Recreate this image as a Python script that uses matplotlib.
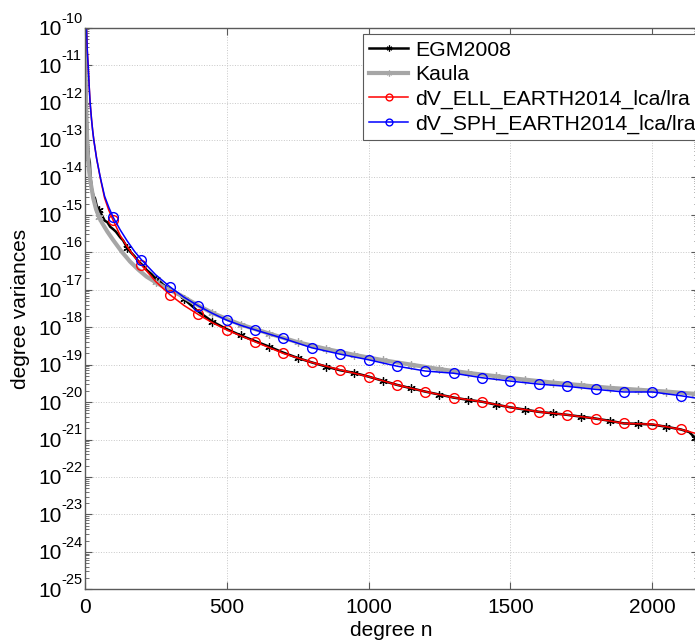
"""Degree variances of EGM2008, Kaula and two EARTH2014 topographic potential models."""

from __future__ import annotations

import matplotlib

matplotlib.use("Agg")
import matplotlib.pyplot as plt
import numpy as np
from matplotlib.ticker import FixedLocator, LogLocator, NullFormatter

OUTPUT = "out.png"
FONT = ["Liberation Sans", "DejaVu Sans"]

# log10 of the degree variances
EGM_DEGREE = [
    2, 5, 10, 14, 18, 20, 25, 31, 36, 42, 50, 60, 70, 80, 90, 100, 110, 125, 135,
    150, 160, 175, 190, 205, 218, 235, 250, 265, 277, 300, 336, 350, 400, 450,
    500, 550, 600, 650, 700, 750, 800, 850, 900, 950, 1000, 1050, 1100, 1150,
    1200, 1250, 1300, 1350, 1400, 1450, 1500, 1550, 1600, 1650, 1700, 1750,
    1800, 1850, 1900, 1950, 2000, 2050, 2100, 2130, 2150, 2160,
]
EGM_LOG = [
    -10.6, -12.0, -13.0, -13.45, -13.6, -13.95, -14.3, -14.5, -14.55, -14.75,
    -14.87, -15.0, -15.15, -15.2, -15.32, -15.38, -15.45, -15.6, -15.68, -15.88,
    -15.98, -16.1, -16.25, -16.35, -16.47, -16.58, -16.7, -16.78, -16.87, -16.98,
    -17.14, -17.25, -17.58, -17.85, -18.05, -18.22, -18.37, -18.52, -18.68,
    -18.82, -18.94, -19.05, -19.15, -19.22, -19.32, -19.43, -19.54, -19.63,
    -19.72, -19.80, -19.88, -19.94, -19.99, -20.07, -20.14, -20.20, -20.26,
    -20.30, -20.34, -20.39, -20.44, -20.50, -20.57, -20.58, -20.60, -20.66,
    -20.73, -20.80, -20.95, -21.02,
]

KAULA_DEGREE = [
    2, 3, 4, 6, 10, 15, 20, 30, 40, 50, 60, 80, 100, 130, 160, 190, 218, 250,
    277, 336, 400, 450, 500, 550, 650, 750, 850, 950, 1050, 1150, 1250, 1350,
    1450, 1550, 1650, 1750, 1850, 1950, 2050, 2150, 2160,
]
KAULA_LOG = [
    -9.8, -10.9, -11.6, -12.4, -13.3, -13.8, -14.1, -14.55, -14.85, -15.05,
    -15.2, -15.45, -15.67, -15.98, -16.25, -16.47, -16.65, -16.8, -16.92, -17.14,
    -17.42, -17.62, -17.78, -17.93, -18.17, -18.40, -18.58, -18.74, -18.88,
    -19.0, -19.12, -19.22, -19.31, -19.40, -19.48, -19.55, -19.62, -19.67,
    -19.72, -19.78, -19.79,
]

TOPO_DEGREE = [
    3, 6, 9, 12, 16, 19, 24, 28, 32, 42, 55, 70, 85, 100, 125, 150, 175, 200,
    250, 300, 350, 400, 450, 500, 550, 600, 700, 800, 900, 1000, 1100, 1200,
    1300, 1400, 1500, 1600, 1700, 1800, 1900, 2000, 2100, 2160,
]
ELL_LOG = [
    -9.3, -10.0, -10.6, -11.0, -11.6, -12.0, -12.45, -12.75, -13.0, -13.5,
    -14.02, -14.55, -14.88, -15.14, -15.55, -15.85, -16.12, -16.34, -16.78,
    -17.13, -17.42, -17.66, -17.88, -18.07, -18.23, -18.39, -18.70, -18.94,
    -19.14, -19.32, -19.54, -19.72, -19.88, -19.99, -20.14, -20.26, -20.34,
    -20.44, -20.57, -20.59, -20.73, -20.85,
]
SPH_LOG = [
    -9.3, -10.0, -10.6, -11.0, -11.6, -12.0, -12.45, -12.75, -13.0, -13.5,
    -14.0, -14.5, -14.8, -15.06, -15.4, -15.7, -15.97, -16.20, -16.6, -16.92,
    -17.2, -17.43, -17.63, -17.81, -17.95, -18.07, -18.30, -18.55, -18.72,
    -18.87, -19.04, -19.17, -19.23, -19.35, -19.44, -19.52, -19.58, -19.66,
    -19.73, -19.73, -19.83, -19.90,
]

SERIES = [
    ("EGM2008", EGM_DEGREE, EGM_LOG),
    ("Kaula", KAULA_DEGREE, KAULA_LOG),
    ("dV_ELL_EARTH2014_lca/lra", TOPO_DEGREE, ELL_LOG),
    ("dV_SPH_EARTH2014_lca/lra", TOPO_DEGREE, SPH_LOG),
]
STYLES = {
    "EGM2008": dict(color="black", lw=1.8, marker=(6, 2, 0), ms=6, mew=0.9, offset=50),
    "Kaula": dict(color="#a6a6a6", lw=3.0, marker=(6, 2, 0), ms=6, mew=0.9, offset=50),
    "dV_ELL_EARTH2014_lca/lra": dict(color="red", lw=1.1, marker="o", ms=7, mew=1.0, offset=0),
    "dV_SPH_EARTH2014_lca/lra": dict(color="blue", lw=1.1, marker="o", ms=7, mew=1.0, offset=0),
}

X_TICKS = [0, 500, 1000, 1500, 2000]
Y_EXPONENTS = list(range(-25, -9))
AXIS_GREY = "#5a5a5a"


def draw() -> None:
    plt.rcParams["font.family"] = FONT

    fig = plt.figure(figsize=(6.95, 6.42), dpi=100)
    ax = fig.add_axes([0.1219, 0.0821, 0.882, 0.8748])

    for name, degree, log_value in SERIES:
        style = STYLES[name]
        degree = np.asarray(degree)
        marks = (degree % 100 == style["offset"]) & (degree >= 50)
        ax.plot(
            degree,
            10.0 ** np.asarray(log_value),
            color=style["color"],
            lw=style["lw"],
            marker=style["marker"],
            ms=style["ms"],
            mew=style["mew"],
            mfc="none",
            markevery=marks,
            label=name,
        )

    ax.set_yscale("log")
    ax.set_xlim(0, 2160)
    ax.set_ylim(1e-25, 1e-10)
    ax.xaxis.set_major_locator(FixedLocator(X_TICKS))
    ax.yaxis.set_major_locator(FixedLocator([10.0 ** e for e in Y_EXPONENTS]))
    ax.set_yticklabels(["10"] * len(Y_EXPONENTS))
    ax.yaxis.set_minor_locator(LogLocator(base=10, subs=np.arange(2, 10), numticks=30))
    ax.yaxis.set_minor_formatter(NullFormatter())

    # MATLAB style powers: "10" as tick label, the exponent set a little higher
    for exponent in Y_EXPONENTS:
        ax.annotate(
            f"{exponent}",
            xy=(0, 10.0 ** exponent),
            xycoords=ax.get_yaxis_transform(),
            xytext=(-16.6, 6.5),
            textcoords="offset points",
            ha="left",
            va="center",
            fontsize=10.5,
            annotation_clip=False,
        )

    ax.tick_params(which="both", direction="in", top=True, right=True, colors=AXIS_GREY,
                   labelcolor="black")
    ax.tick_params(which="major", length=5, width=0.8, labelsize=15)
    ax.tick_params(which="minor", length=3, width=0.6)
    ax.tick_params(axis="y", pad=16.6)
    ax.tick_params(axis="x", pad=6)
    for spine in ax.spines.values():
        spine.set_color(AXIS_GREY)
        spine.set_linewidth(1.0)

    ax.grid(True, which="major", linestyle=":", color="#c8c8c8", lw=0.7)
    ax.set_axisbelow(True)

    ax.set_xlabel("degree n", fontsize=15, labelpad=3)
    ax.set_ylabel("degree variances", fontsize=15)
    ax.yaxis.set_label_coords(-0.09, 0.5)

    legend = ax.legend(
        loc="upper left",
        bbox_to_anchor=(0.4535, 0.988),
        fontsize=15.3,
        frameon=True,
        fancybox=False,
        framealpha=1.0,
        edgecolor=AXIS_GREY,
        handlelength=1.85,
        handletextpad=0.3,
        borderpad=0.3,
        borderaxespad=0.0,
        labelspacing=0.26,
        numpoints=1,
        markerscale=0.7,
    )
    legend.get_frame().set_linewidth(0.8)

    fig.savefig(OUTPUT, dpi=100)
    plt.close(fig)


def main() -> None:
    draw()


if __name__ == "__main__":
    main()
